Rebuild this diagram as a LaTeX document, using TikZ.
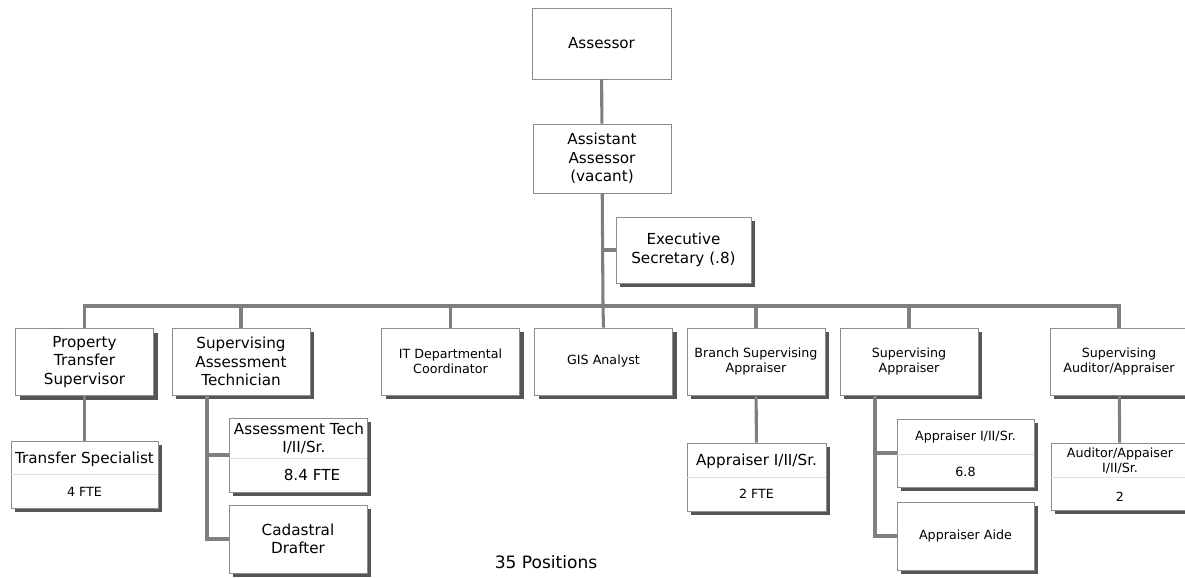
\documentclass[tikz,border=0pt]{standalone}
\usepackage{fontspec}
\setmainfont{DejaVu Sans}
\usetikzlibrary{shadows}
\definecolor{linegray}{HTML}{7F7F7F}
\definecolor{boxgray}{HTML}{8C8C8C}
\definecolor{shadegray}{HTML}{555555}
\definecolor{splitgray}{HTML}{DDDDDD}
\newcommand\bigtxt{\fontsize{11.4}{13.9}\selectfont}
\newcommand\smalltxt{\fontsize{9.5}{11}\selectfont}
\tikzstyle{post}=[draw=boxgray, line width=0.6pt, fill=white, minimum width=103.5pt, minimum height=50.25pt, inner sep=0pt, align=center, font=\bigtxt]
\tikzstyle{shaded}=[post, drop shadow={shadow xshift=3pt, shadow yshift=-3pt, fill=shadegray, opacity=1}]
\tikzstyle{link}=[draw=linegray, line width=2.3pt]
\tikzstyle{split}=[draw=splitgray, line width=0.6pt]
\tikzstyle{lbl}=[align=center, inner sep=0pt]

\begin{document}
\begin{tikzpicture}[x=0.75pt, y=-0.75pt]
		\useasboundingbox (0,0) rectangle (1185,578);
		% top of the chart
		\node[post, minimum width=104.25pt, minimum height=53.25pt] (assessor) at (601.5,43.5) {Assessor};
		\node[post, minimum height=51.75pt] (asst) at (602,158.5) {Assistant\\Assessor\\(vacant)};
		\node[shaded, minimum width=101.25pt, minimum height=49.5pt] (exec) at (683.5,250) {Executive\\Secretary (.8)};
		% second row
		\node[shaded] (pts) at (84.5,362) {Property\\Transfer\\Supervisor};
		\node[shaded] (sat) at (241,361.5) {Supervising\\Assessment\\Technician};
		\node[shaded, font=\smalltxt] (itc) at (450.5,361.5) {IT Departmental\\Coordinator};
		\node[shaded, font=\smalltxt] (gis) at (603.5,361.5) {GIS Analyst};
		\node[shaded, font=\smalltxt] (bsa) at (756,361.5) {Branch Supervising\\Appraiser};
		\node[shaded, font=\smalltxt] (sa) at (909,361.5) {Supervising\\Appraiser};
		\node[shaded, font=\smalltxt] (saa) at (1119,361.5) {Supervising\\Auditor/Appraiser};
		% third row
		\node[shaded, minimum width=110.25pt] (ts) at (84.5,474.5) {};
		\node[shaded, minimum height=55.5pt] (at) at (298,455) {};
		\node[shaded, minimum height=51pt] (cd) at (298,539) {Cadastral\\Drafter};
		\node[shaded, minimum width=104.25pt, minimum height=51pt] (ap2) at (756.5,477) {};
		\node[shaded, minimum width=102.75pt, minimum height=51pt] (ap68) at (965.5,453) {};
		\node[shaded, minimum width=102.75pt, minimum height=51pt, font=\smalltxt] (aide) at (965.5,536) {Appraiser Aide};
		\node[shaded] (aud) at (1120,476.5) {};
		
		\draw[split] (ts.west |- 0,474) -- (ts.east |- 0,474);
		\draw[split] (at.west |- 0,458) -- (at.east |- 0,458);
		\draw[split] (ap2.west |- 0,477) -- (ap2.east |- 0,477);
		\draw[split] (ap68.west |- 0,454) -- (ap68.east |- 0,454);
		\draw[split] (aud.west |- 0,477) -- (aud.east |- 0,477);
		
		\node[lbl, font=\bigtxt] (ts-t) at (84.5,459) {Transfer Specialist};
		\node[lbl, font=\smalltxt] (ts-n) at (84.5,492) {4 FTE};
		\node[lbl, font=\bigtxt] (at-t) at (299,438.5) {Assessment Tech\\ \ \ I/II/Sr.};
		\node[lbl, font=\bigtxt] (at-n) at (312,475) {8.4 FTE};
		\node[lbl, font=\bigtxt] (ap2-t) at (756.5,461) {Appraiser I/II/Sr.};
		\node[lbl, font=\smalltxt] (ap2-n) at (756.5,494) {2 FTE};
		\node[lbl, font=\smalltxt] (ap68-t) at (965.5,437.5) {Appraiser I/II/Sr.};
		\node[lbl, font=\smalltxt] (ap68-n) at (965.5,471.5) {6.8};
		\node[lbl, font=\smalltxt] (aud-t) at (1120,460.5) {Auditor/Appaiser\\I/II/Sr.};
		\node[lbl, font=\smalltxt] (aud-n) at (1120,496.5) {2};
		\node[lbl, font=\fontsize{12.8}{15}\selectfont] (total) at (546,562) {35 Positions};
		
		\coordinate (hub) at (603,306);
		\coordinate (satleg) at (207,395);
		\coordinate (saleg) at (875,395);
		
	\draw[link](assessor)--(asst);
	\draw[link](asst)--(hub);
	\draw[link](asst.south |- exec.west)--(exec.west);
	\draw[link](hub)-|(pts.north);
	\draw[link](hub)-|(sat.north);
	\draw[link](hub)-|(itc.north);
	\draw[link](hub)--(gis.north);
	\draw[link](hub)-|(bsa.north);
	\draw[link](hub)-|(sa.north);
	\draw[link](hub)-|(saa.north);
	\draw[link](pts)--(ts);
	\draw[link](satleg)|-(at.west);
	\draw[link](satleg)|-(cd.west);
	\draw[link](bsa)--(ap2);
	\draw[link](saleg)|-(ap68.west);
	\draw[link](saleg)|-(aide.west);
	\draw[link](saa)--(aud);
	\end{tikzpicture}
\end{document}
